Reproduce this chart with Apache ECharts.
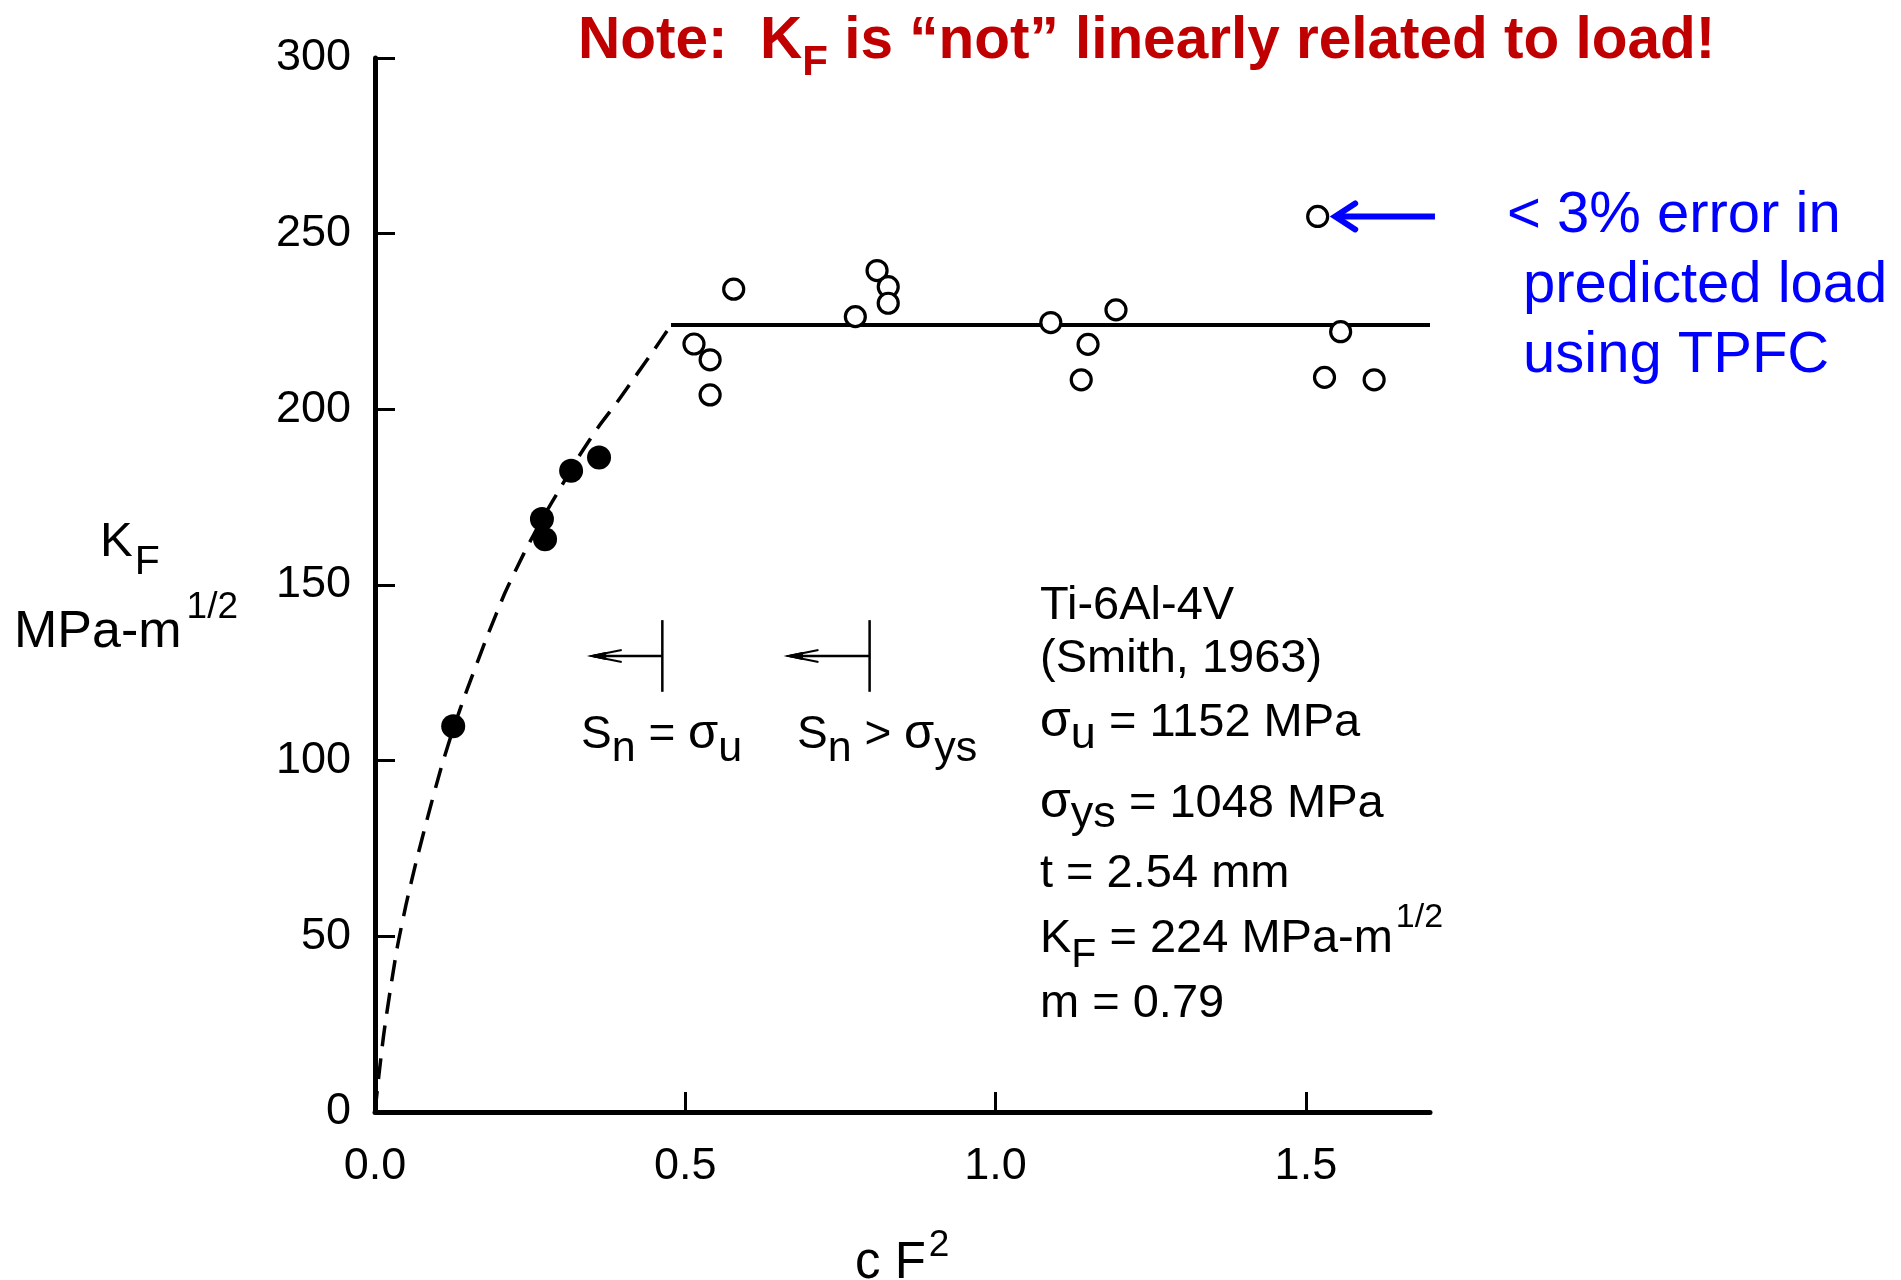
<!DOCTYPE html>
<html>
<head>
<meta charset="utf-8">
<script src="https://cdn.jsdelivr.net/npm/echarts@6/dist/echarts.min.js"></script>
<style>
  html, body { margin: 0; padding: 0; background: #ffffff; }
  #chart { width: 1901px; height: 1280px; }
</style>
</head>
<body>
<div id="chart"></div>
<script>
// ---- data -------------------------------------------------------------
const xTicks = [0, 0.5, 1.0, 1.5];

// specimens below net-section yield (filled symbols)
const filledX = [0.126, 0.269, 0.274, 0.316, 0.361];
const filledY = [109.8, 168.8, 163.0, 182.5, 186.3];

// specimens with net-section stress above yield (open symbols)
const openX = [0.514, 0.540, 0.540, 0.578, 0.774, 0.809, 0.827, 0.827,
               1.089, 1.149, 1.138, 1.194, 1.519, 1.556, 1.530, 1.610];
const openY = [218.6, 214.1, 204.1, 234.2, 226.4, 239.5, 234.9, 230.2,
               224.7, 218.5, 208.4, 228.3, 254.9, 222.1, 209.1, 208.4];

// TPFC curve (dashed) up to the plateau
const curveX = [0, 0.006, 0.014, 0.024, 0.036, 0.050, 0.066, 0.085, 0.105, 0.126,
                0.150, 0.180, 0.210, 0.240, 0.270, 0.300, 0.330, 0.360, 0.390,
                0.420, 0.450, 0.477];
const curveY = [0, 10, 22, 34, 47, 59, 71, 84, 97, 109,
                121, 135, 148, 159, 169, 178, 187, 195, 202,
                209.5, 217, 224];

// K_F plateau (solid)
const plateauX = [0.477, 1.7];
const plateauY = [224, 224];

// ---- chart ------------------------------------------------------------
const FONT = '"Liberation Sans", Arial, Helvetica, sans-serif';
const zip = (xs, ys) => xs.map((x, i) => [x, ys[i]]);

const chart = echarts.init(document.getElementById('chart'), null, { renderer: 'canvas' });

chart.setOption({
  animation: false,
  backgroundColor: '#ffffff',
  grid: {
    left: 375, top: 58, width: 1055, height: 1054,
    containLabel: false, outerBoundsMode: 'none'
  },
  xAxis: {
    type: 'value', min: 0, max: 1.7, interval: 0.5,
    axisLine: { show: true, onZero: false, lineStyle: { color: '#000', width: 5 } },
    axisTick: { show: true, inside: true, length: 20, customValues: xTicks,
                lineStyle: { color: '#000', width: 3 } },
    axisLabel: { show: true, customValues: xTicks, margin: 32,
                 fontSize: 45, fontFamily: FONT, color: '#000',
                 formatter: v => Number(v).toFixed(1) },
    splitLine: { show: false }
  },
  yAxis: {
    type: 'value', min: 0, max: 300, interval: 50,
    axisLine: { show: true, onZero: false, lineStyle: { color: '#000', width: 5 } },
    axisTick: { show: true, inside: true, length: 20,
                lineStyle: { color: '#000', width: 3 } },
    axisLabel: { show: true, margin: 24, fontSize: 45, fontFamily: FONT, color: '#000' },
    splitLine: { show: false }
  },
  series: [
    {
      type: 'line', data: zip(curveX, curveY), symbol: 'none', smooth: 0.2,
      lineStyle: { color: '#000', width: 3.5, type: [21, 12], opacity: 1 }, z: 2, silent: true
    },
    {
      type: 'line', data: zip(plateauX, plateauY), symbol: 'none',
      lineStyle: { color: '#000', width: 4, opacity: 1 }, z: 2, silent: true
    },
    {
      type: 'scatter', data: zip(filledX, filledY), symbol: 'circle', symbolSize: 24,
      itemStyle: { color: '#000', opacity: 1 }, z: 3, silent: true
    },
    {
      type: 'scatter', data: zip(openX, openY), symbol: 'circle', symbolSize: 20,
      itemStyle: { color: '#ffffff', borderColor: '#000', borderWidth: 3.2, opacity: 1 },
      z: 4, silent: true
    }
  ]
});

// ---- text with sub/superscripts -----------------------------------------
const measureCtx = document.createElement('canvas').getContext('2d');
function fontStr(size, bold) { return (bold ? 'bold ' : '') + size + 'px ' + FONT; }

// runs: {t, size, dy (baseline shift), gap (extra space after)}
function textLine(x, baseline, runs, color, bold) {
  const out = [];
  let cx = x;
  runs.forEach(r => {
    const f = fontStr(r.size, bold);
    measureCtx.font = f;
    const w = measureCtx.measureText(r.t).width;
    out.push({
      type: 'text', silent: true, z: 100,
      x: cx, y: baseline + (r.dy || 0) - 0.30 * r.size,
      style: { text: r.t, font: f, fill: color, textAlign: 'left', textVerticalAlign: 'middle' }
    });
    cx += w + (r.gap || 0);
  });
  return out;
}

const px = p => chart.convertToPixel({ gridIndex: 0 }, p);
const graphics = [];

// title
graphics.push(...textLine(578, 59, [
  { t: 'Note:  K', size: 58.5 },
  { t: 'F', size: 42, dy: 17 },
  { t: ' is \u201Cnot\u201D linearly related to load!', size: 58.5 }
], '#C00000', true));

// y-axis title
graphics.push(...textLine(100, 557, [
  { t: 'K', size: 49, gap: 2 },
  { t: 'F', size: 41, dy: 18 }
], '#000'));
graphics.push(...textLine(14, 648, [
  { t: 'MPa-m', size: 52, gap: 5 },
  { t: '1/2', size: 37, dy: -29 }
], '#000'));

// x-axis title
graphics.push(...textLine(855, 1279, [
  { t: 'c F', size: 51, gap: 3 },
  { t: '2', size: 37, dy: -22 }
], '#000'));

// material block
const NX = 1040, NS = 47;
graphics.push(...textLine(NX, 620, [{ t: 'Ti-6Al-4V', size: NS }], '#000'));
graphics.push(...textLine(NX, 673, [{ t: '(Smith, 1963)', size: NS }], '#000'));
graphics.push(...textLine(NX, 737, [
  { t: '\u03C3', size: 50 },
  { t: 'u', size: 45, dy: 12 },
  { t: ' = 1152 MPa', size: NS }
], '#000'));
graphics.push(...textLine(NX, 818, [
  { t: '\u03C3', size: 50 },
  { t: 'ys', size: 45, dy: 10 },
  { t: ' = 1048 MPa', size: NS }
], '#000'));
graphics.push(...textLine(NX, 888, [{ t: 't = 2.54 mm', size: NS }], '#000'));
graphics.push(...textLine(NX, 953, [
  { t: 'K', size: NS },
  { t: 'F', size: 41, dy: 15 },
  { t: ' = 224 MPa-m', size: NS, gap: 3 },
  { t: '1/2', size: 34, dy: -25 }
], '#000'));
graphics.push(...textLine(NX, 1018, [{ t: 'm = 0.79', size: NS }], '#000'));

// net-section stress regions
graphics.push(...textLine(581, 749, [
  { t: 'S', size: 46 },
  { t: 'n', size: 43, dy: 13 },
  { t: ' = ', size: 46 },
  { t: '\u03C3', size: 49 },
  { t: 'u', size: 43, dy: 13 }
], '#000'));
graphics.push(...textLine(797, 749, [
  { t: 'S', size: 46 },
  { t: 'n', size: 43, dy: 13 },
  { t: ' > ', size: 46 },
  { t: '\u03C3', size: 49 },
  { t: 'ys', size: 43, dy: 13 }
], '#000'));

// boundary markers with left-pointing arrows
[[0.463, 0.346], [0.797, 0.663]].forEach(([bx, ax]) => {
  const top = px([bx, 140]), bot = px([bx, 119.6]);
  const mid = px([bx, 129.8]), tip = px([ax, 129.8]);
  graphics.push({ type: 'line', silent: true, z: 50,
    shape: { x1: top[0], y1: top[1], x2: bot[0], y2: bot[1] },
    style: { stroke: '#000', lineWidth: 2.5 } });
  graphics.push({ type: 'line', silent: true, z: 50,
    shape: { x1: mid[0], y1: mid[1], x2: tip[0] + 4, y2: tip[1] },
    style: { stroke: '#000', lineWidth: 2.5 } });
  graphics.push({ type: 'polyline', silent: true, z: 50,
    shape: { points: [[tip[0] + 32, tip[1] - 6], [tip[0] + 2, tip[1]], [tip[0] + 32, tip[1] + 6]] },
    style: { stroke: '#000', fill: null, lineWidth: 2 } });
  graphics.push({ type: 'polygon', silent: true, z: 50,
    shape: { points: [[tip[0], tip[1]], [tip[0] + 16, tip[1] - 3.5], [tip[0] + 16, tip[1] + 3.5]] },
    style: { fill: '#000', stroke: '#000', lineWidth: 1 } });
});

// blue pointer to the highest result
const bTail = px([1.708, 254.9]), bTip = px([1.544, 254.9]);
graphics.push({ type: 'line', silent: true, z: 50,
  shape: { x1: bTail[0], y1: bTail[1], x2: bTip[0] + 2, y2: bTip[1] },
  style: { stroke: '#0000FF', lineWidth: 6 } });
graphics.push({ type: 'polyline', silent: true, z: 50,
  shape: { points: [[bTip[0] + 22, bTip[1] - 13], [bTip[0] + 2, bTip[1]], [bTip[0] + 22, bTip[1] + 13]] },
  style: { stroke: '#0000FF', fill: null, lineWidth: 6, lineCap: 'round', lineJoin: 'miter' } });

graphics.push(...textLine(1507, 233, [{ t: '< 3% error in', size: 58 }], '#0000FF'));
graphics.push(...textLine(1523, 303, [{ t: 'predicted load', size: 58 }], '#0000FF'));
graphics.push(...textLine(1523, 373, [{ t: 'using TPFC', size: 58 }], '#0000FF'));

chart.setOption({ graphic: { elements: graphics } });
</script>
</body>
</html>
